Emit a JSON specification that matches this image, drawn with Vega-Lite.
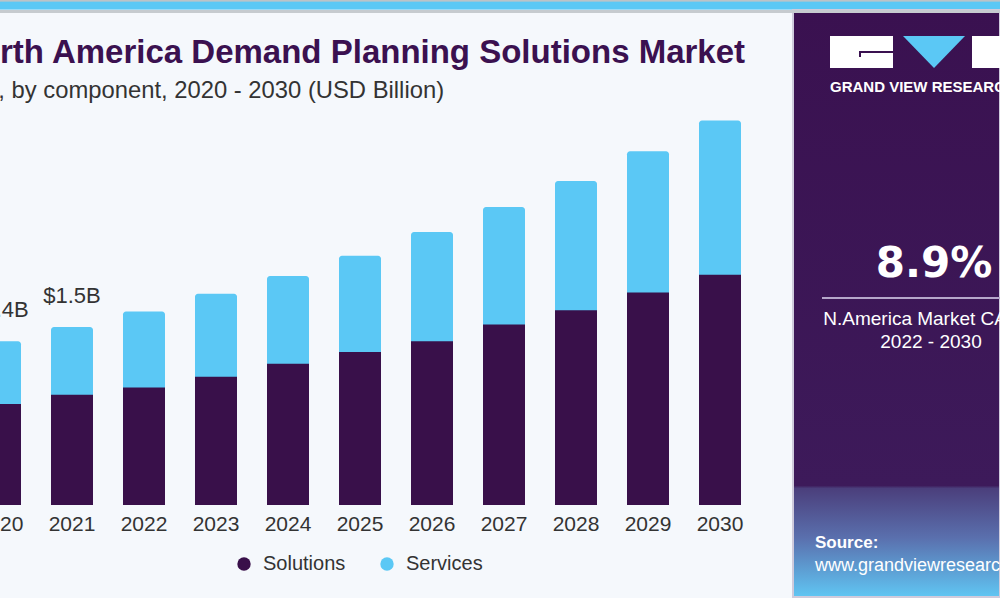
{
  "$schema": "https://vega.github.io/schema/vega-lite/v6.json",
  "background": "#f5f8fc",
  "padding": {"left": -44, "top": 0, "right": 0, "bottom": 0},
  "bounds": "flush",
  "spacing": 0,
  "resolve": {"scale": {"color": "independent"}, "legend": {"color": "independent"}},
  "config": {"font": "Liberation Sans"},
  "vconcat": [
    {
      "width": 1044,
      "height": 10,
      "view": {
        "stroke": null,
        "fill": {
          "gradient": "linear", "x1": 0, "y1": 0, "x2": 0, "y2": 1,
          "stops": [
            {"offset": 0, "color": "#bcc3c7"},
            {"offset": 0.12, "color": "#bcc3c7"},
            {"offset": 0.2, "color": "#5bc8f5"},
            {"offset": 0.85, "color": "#5bc8f5"},
            {"offset": 1, "color": "#b9e3f7"}
          ]
        }
      },
      "data": {"values": []},
      "mark": {"type": "point", "opacity": 0},
      "encoding": {}
    },
    {
      "resolve": {"scale": {"color": "independent"}, "legend": {"color": "independent"}},
      "hconcat": [
        {
          "width": 808,
          "height": 495,
          "view": {"stroke": null},
          "title": {
            "text": "North America Demand Planning Solutions Market",
            "subtitle": "size, by component, 2020 - 2030 (USD Billion)",
            "anchor": "start",
            "frame": "group",
            "offset": -93,
            "font": "Liberation Sans",
            "fontSize": 33,
            "fontWeight": "bold",
            "color": "#3b1150",
            "subtitleFont": "Liberation Sans",
            "subtitleFontSize": 23.8,
            "subtitleColor": "#333333",
            "subtitlePadding": 9
          },
          "data": {
            "values": [
              {"year": 2020, "component": "Solutions", "value": 0.85},
              {"year": 2020, "component": "Services", "value": 0.53},
              {"year": 2021, "component": "Solutions", "value": 0.93},
              {"year": 2021, "component": "Services", "value": 0.57},
              {"year": 2022, "component": "Solutions", "value": 0.99},
              {"year": 2022, "component": "Services", "value": 0.64},
              {"year": 2023, "component": "Solutions", "value": 1.08},
              {"year": 2023, "component": "Services", "value": 0.70},
              {"year": 2024, "component": "Solutions", "value": 1.19},
              {"year": 2024, "component": "Services", "value": 0.74},
              {"year": 2025, "component": "Solutions", "value": 1.29},
              {"year": 2025, "component": "Services", "value": 0.81},
              {"year": 2026, "component": "Solutions", "value": 1.38},
              {"year": 2026, "component": "Services", "value": 0.92},
              {"year": 2027, "component": "Solutions", "value": 1.52},
              {"year": 2027, "component": "Services", "value": 0.99},
              {"year": 2028, "component": "Solutions", "value": 1.64},
              {"year": 2028, "component": "Services", "value": 1.09},
              {"year": 2029, "component": "Solutions", "value": 1.79},
              {"year": 2029, "component": "Services", "value": 1.19},
              {"year": 2030, "component": "Solutions", "value": 1.94},
              {"year": 2030, "component": "Services", "value": 1.30}
            ]
          },
          "encoding": {
            "x": {
              "field": "year",
              "type": "ordinal",
              "scale": {"paddingInner": 0.4167, "paddingOuter": 0.3194},
              "axis": {
                "title": null,
                "labelAngle": 0,
                "labelFont": "Liberation Sans",
                "labelFontSize": 21,
                "labelColor": "#333333",
                "ticks": false,
                "domain": false,
                "grid": false,
                "labelPadding": 8
              }
            }
          },
          "layer": [
            {
              "mark": {"type": "bar", "cornerRadiusTopLeft": 3, "cornerRadiusTopRight": 3},
              "encoding": {
                "y": {
                  "aggregate": "sum",
                  "field": "value",
                  "type": "quantitative",
                  "scale": {"domain": [0, 4.171], "nice": false},
                  "axis": null
                },
                "color": {"datum": "Services", "type": "nominal"}
              }
            },
            {
              "transform": [{"filter": "datum.component === 'Solutions'"}],
              "mark": {"type": "bar"},
              "encoding": {
                "y": {"field": "value", "type": "quantitative"},
                "color": {
                  "field": "component",
                  "type": "nominal",
                  "scale": {"domain": ["Solutions", "Services"], "range": ["#39104a", "#5bc8f5"]},
                  "legend": {
                    "title": null,
                    "orient": "none",
                    "legendX": 278,
                    "legendY": 544,
                    "padding": 0,
                    "direction": "horizontal",
                    "symbolType": "circle",
                    "symbolSize": 180,
                    "symbolStrokeWidth": 0,
                    "labelFont": "Liberation Sans",
                    "labelFontSize": 20,
                    "labelColor": "#333333",
                    "labelOffset": 9,
                    "columnPadding": 31
                  }
                }
              }
            },
            {
              "transform": [
                {"filter": "datum.year <= 2021"},
                {"aggregate": [{"op": "sum", "field": "value", "as": "total"}], "groupby": ["year"]},
                {"calculate": "'$' + format(datum.total, '.1f') + 'B'", "as": "label"}
              ],
              "mark": {
                "type": "text",
                "baseline": "bottom",
                "dy": -19,
                "font": "Liberation Sans",
                "fontSize": 22,
                "color": "#333333"
              },
              "encoding": {
                "y": {"field": "total", "type": "quantitative"},
                "text": {"field": "label"}
              }
            }
          ]
        },
        {
          "width": 207,
          "height": 587,
          "view": {
            "stroke": "#cfcbdc",
            "strokeWidth": 2,
            "fill": {
              "gradient": "linear", "x1": 0, "y1": 0, "x2": 0, "y2": 1,
              "stops": [
                {"offset": 0, "color": "#3a1150"},
                {"offset": 0.81, "color": "#3d1a5a"},
                {"offset": 0.815, "color": "#4b3f7c"},
                {"offset": 0.9, "color": "#5a70ae"},
                {"offset": 1, "color": "#60c6f3"}
              ]
            }
          },
          "data": {
            "values": [
              {"item": "brand", "text": "GRAND VIEW RESEARCH"},
              {"item": "cagr", "text": "8.9%"},
              {"item": "caption", "text": "N.America Market CAGR,"},
              {"item": "period", "text": "2022 - 2030"},
              {"item": "source", "text": "Source:"},
              {"item": "site", "text": "www.grandviewresearch.com"}
            ]
          },
          "layer": [
            {
              "transform": [{"filter": "datum.item === 'brand'"}],
              "mark": {"type": "rect", "color": "#ffffff", "clip": true},
              "encoding": {
                "x": {"value": 37}, "x2": {"value": 100},
                "y": {"value": 26}, "y2": {"value": 58}
              }
            },
            {
              "transform": [{"filter": "datum.item === 'brand'"}],
              "mark": {"type": "rect", "color": "#ffffff", "clip": true},
              "encoding": {
                "x": {"value": 179}, "x2": {"value": 240},
                "y": {"value": 26}, "y2": {"value": 58}
              }
            },
            {
              "transform": [{"filter": "datum.item === 'brand'"}],
              "mark": {"type": "rule", "color": "#3a1150", "strokeWidth": 2},
              "encoding": {
                "x": {"value": 67}, "x2": {"value": 100},
                "y": {"value": 42}, "y2": {"value": 42}
              }
            },
            {
              "transform": [{"filter": "datum.item === 'brand'"}],
              "mark": {"type": "rule", "color": "#3a1150", "strokeWidth": 2},
              "encoding": {
                "x": {"value": 67}, "x2": {"value": 67},
                "y": {"value": 41}, "y2": {"value": 47}
              }
            },
            {
              "transform": [{"filter": "datum.item === 'brand'"}],
              "mark": {
                "type": "point",
                "shape": "M -1 -0.52 L 1 -0.52 L 0 0.52 Z",
                "filled": true,
                "color": "#5bc8f5",
                "opacity": 1,
                "size": 3844
              },
              "encoding": {"x": {"value": 141}, "y": {"value": 42}}
            },
            {
              "transform": [{"filter": "datum.item === 'brand'"}],
              "mark": {
                "type": "text",
                "align": "left",
                "baseline": "alphabetic",
                "font": "Liberation Sans",
                "fontWeight": "bold",
                "fontSize": 15,
                "color": "#ffffff",
                "clip": true
              },
              "encoding": {"x": {"value": 37}, "y": {"value": 82}, "text": {"field": "text"}}
            },
            {
              "transform": [{"filter": "datum.item === 'cagr'"}],
              "mark": {
                "type": "text",
                "align": "center",
                "baseline": "alphabetic",
                "font": "DejaVu Sans",
                "fontWeight": "bold",
                "fontSize": 42,
                "color": "#ffffff",
                "clip": true
              },
              "encoding": {"x": {"value": 141}, "y": {"value": 267}, "text": {"field": "text"}}
            },
            {
              "transform": [{"filter": "datum.item === 'cagr'"}],
              "mark": {"type": "rule", "color": "#b5a7ca", "strokeWidth": 2, "clip": true},
              "encoding": {
                "x": {"value": 29}, "x2": {"value": 250},
                "y": {"value": 288}, "y2": {"value": 288}
              }
            },
            {
              "transform": [{"filter": "datum.item === 'caption'"}],
              "mark": {
                "type": "text",
                "align": "center",
                "baseline": "alphabetic",
                "font": "Liberation Sans",
                "fontSize": 19,
                "color": "#ffffff",
                "clip": true
              },
              "encoding": {"x": {"value": 139}, "y": {"value": 315}, "text": {"field": "text"}}
            },
            {
              "transform": [{"filter": "datum.item === 'period'"}],
              "mark": {
                "type": "text",
                "align": "center",
                "baseline": "alphabetic",
                "font": "Liberation Sans",
                "fontSize": 19,
                "color": "#ffffff",
                "clip": true
              },
              "encoding": {"x": {"value": 138}, "y": {"value": 338}, "text": {"field": "text"}}
            },
            {
              "transform": [{"filter": "datum.item === 'source'"}],
              "mark": {
                "type": "text",
                "align": "left",
                "baseline": "alphabetic",
                "font": "Liberation Sans",
                "fontWeight": "bold",
                "fontSize": 17,
                "color": "#ffffff",
                "clip": true
              },
              "encoding": {"x": {"value": 22}, "y": {"value": 538}, "text": {"field": "text"}}
            },
            {
              "transform": [{"filter": "datum.item === 'site'"}],
              "mark": {
                "type": "text",
                "align": "left",
                "baseline": "alphabetic",
                "font": "Liberation Sans",
                "fontSize": 18,
                "color": "#ffffff",
                "clip": true
              },
              "encoding": {"x": {"value": 22}, "y": {"value": 561}, "text": {"field": "text"}}
            }
          ]
        }
      ],
      "spacing": 29,
      "bounds": "flush"
    },
    {
      "width": 1044,
      "height": 3,
      "view": {"stroke": null, "fill": "#c6cbcf"},
      "data": {"values": []},
      "mark": {"type": "point", "opacity": 0},
      "encoding": {}
    }
  ]
}
